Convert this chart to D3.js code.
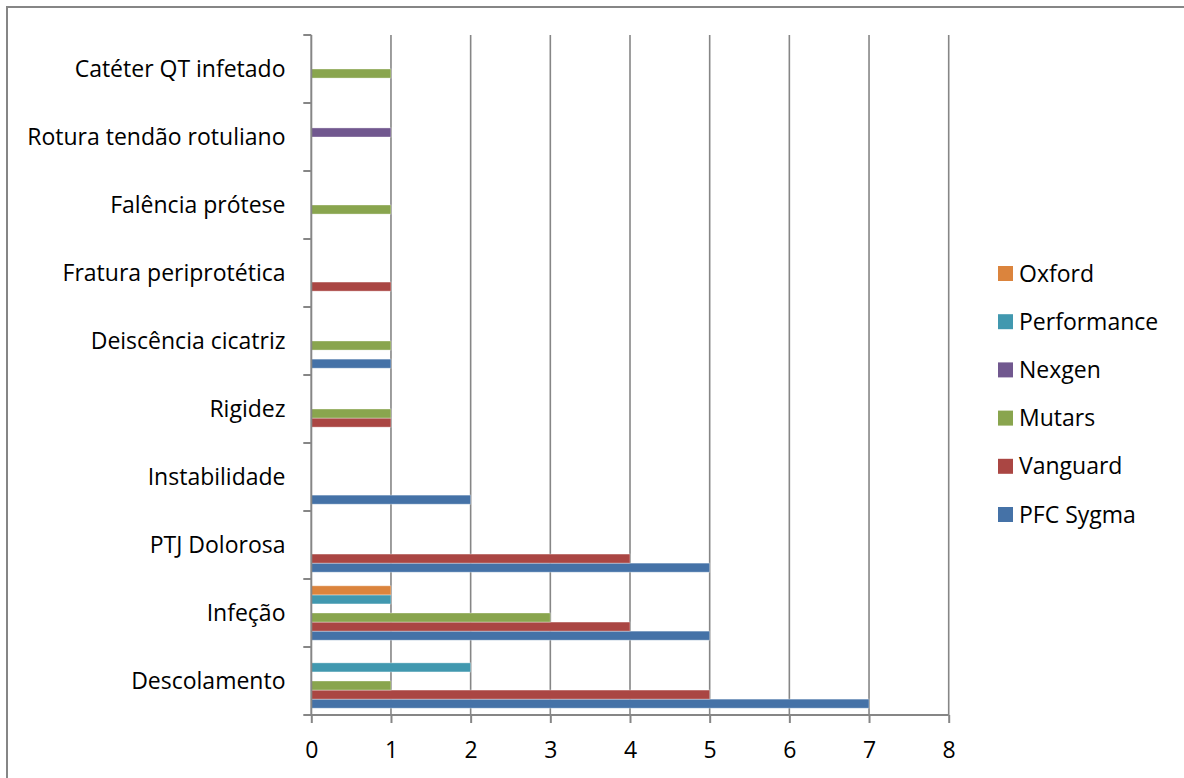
<!DOCTYPE html>
<html><head><meta charset="utf-8">
<script src="https://cdn.jsdelivr.net/npm/d3@7"></script>
<style>
html,body{margin:0;padding:0;background:#fff;}
text{font-family:"Open Sans",sans-serif;fill:#000;}
</style></head>
<body><svg id="c" width="1184" height="778"></svg>
<script>
const categories = ["Descolamento","Infeção","PTJ Dolorosa","Instabilidade","Rigidez","Deiscência cicatriz","Fratura periprotética","Falência prótese","Rotura tendão rotuliano","Catéter QT infetado"];
const seriesNames = ["PFC Sygma","Vanguard","Mutars","Nexgen","Performance","Oxford"];
const pfcSygma    = [7,5,5,2,0,1,0,0,0,0];
const vanguard    = [5,4,4,0,1,0,1,0,0,0];
const mutars      = [1,3,0,0,1,1,0,1,0,1];
const nexgen      = [0,0,0,0,0,0,0,0,1,0];
const performance = [2,1,0,0,0,0,0,0,0,0];
const oxford      = [0,1,0,0,0,0,0,0,0,0];
const xTicks = [0,1,2,3,4,5,6,7,8];
const colors = ["#4572A7","#AA4643","#89A54E","#71588F","#4198AF","#DB843D"];

const seriesValues = [pfcSygma, vanguard, mutars, nexgen, performance, oxford];
const svg = d3.select("#c");
const grey = "#868686";
const FS = 23;

// chart frame
svg.append("rect").attr("x",7).attr("y",7).attr("width",1200).attr("height",800)
  .attr("fill","#fff").attr("stroke",grey).attr("stroke-width",2);

const x = d3.scaleLinear().domain([0,8]).range([311.3,948.7]);
const y = d3.scaleBand().domain(categories.slice().reverse()).range([35,715]).padding(0);
const yInner = d3.scaleBand().domain(seriesNames.slice().reverse()).range([0,y.bandwidth()])
  .paddingInner(0).paddingOuter(0.75);

// gridlines
svg.append("g").selectAll("line").data(xTicks.slice(1)).join("line")
  .attr("x1",d=>x(d)).attr("x2",d=>x(d)).attr("y1",35).attr("y2",715)
  .attr("stroke",grey).attr("stroke-width",1.6);

// bars
const gBars = svg.append("g");
seriesNames.forEach((s,si)=>{
  gBars.append("g").selectAll("rect").data(categories.map((c,i)=>({c,v:seriesValues[si][i]})).filter(d=>d.v>0))
    .join("rect")
    .attr("x",x(0)).attr("y",d=>y(d.c)+yInner(s))
    .attr("width",d=>x(d.v)-x(0)).attr("height",yInner.bandwidth())
    .attr("fill",colors[si])
    .attr("stroke","#fff").attr("stroke-opacity",0.35).attr("stroke-width",1);
});

// x axis
const xAxis = d3.axisBottom(x).tickValues(xTicks).tickSize(8).tickPadding(21).tickFormat(d3.format("d"));
const gx = svg.append("g").attr("transform","translate(0,715)").call(xAxis);
gx.select(".domain").attr("stroke",grey).attr("stroke-width",2).attr("d",`M${x(0)},0H${x(8)}`);
gx.selectAll(".tick line").attr("stroke",grey).attr("stroke-width",2);
gx.selectAll(".tick text").attr("font-size",FS).attr("fill","#000").attr("dy","0.62em")
  .style("font-family","'Open Sans',sans-serif");

// y axis (ticks at band boundaries)
const bounds = d3.range(categories.length+1).map(i=>35+i*y.step());
svg.append("line").attr("x1",x(0)).attr("x2",x(0)).attr("y1",35).attr("y2",716)
  .attr("stroke",grey).attr("stroke-width",2);
svg.append("g").selectAll("line").data(bounds).join("line")
  .attr("x1",x(0)-8).attr("x2",x(0)).attr("y1",d=>d).attr("y2",d=>d)
  .attr("stroke",grey).attr("stroke-width",2);
svg.append("g").selectAll("text").data(categories).join("text")
  .attr("x",285.5).attr("y",d=>y(d)+y.bandwidth()/2).attr("dy","0.35em")
  .attr("text-anchor","end").attr("font-size",FS).text(d=>d);

// legend (top: Oxford ... bottom: PFC Sygma)
const legendOrder = seriesNames.slice().reverse();
const lg = svg.append("g").selectAll("g").data(legendOrder).join("g")
  .attr("transform",(d,i)=>`translate(998,${273.5+i*48.2})`);
lg.append("rect").attr("x",0).attr("y",-7.5).attr("width",15).attr("height",15)
  .attr("fill",d=>colors[seriesNames.indexOf(d)]);
lg.append("text").attr("x",21).attr("y",0).attr("dy","0.35em").attr("font-size",FS).text(d=>d);
</script></body></html>
